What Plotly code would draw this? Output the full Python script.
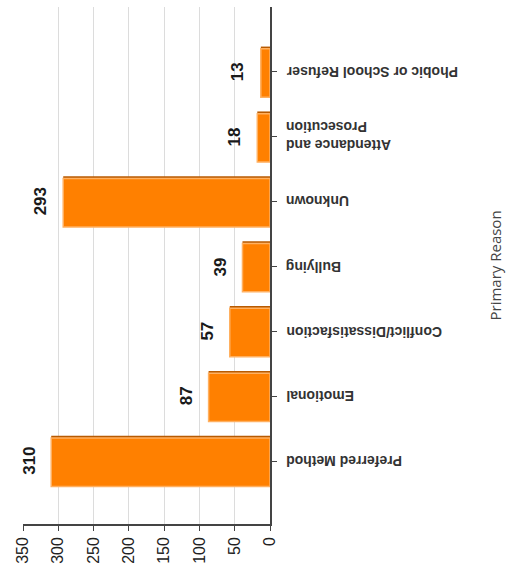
import plotly.graph_objects as go

categories = ["Preferred Method", "Emotional", "Conflict/Dissatisfaction", "Bullying",
              "Unknown", "Attendance and<br>Prosecution", "Phobic or School Refuser"]
values = [310, 87, 57, 39, 293, 18, 13]
x_ticks = [0, 50, 100, 150, 200, 250, 300, 350]
axis_title = "Primary Reason"

fig = go.Figure()
# darker base (3D shade on top edge)
fig.add_trace(go.Bar(
    y=categories, x=values, orientation="h",
    width=0.78, offset=-0.39,
    marker=dict(color="#b85a00", line=dict(width=0)),
    hoverinfo="skip", showlegend=False,
))
# main bar
fig.add_trace(go.Bar(
    y=categories, x=values, orientation="h",
    width=0.745, offset=-0.39,
    marker=dict(color="#ff8000", line=dict(color="#ffb060", width=1.5)),
    showlegend=False,
))

# value labels
for c, v in zip(categories, values):
    fig.add_annotation(
        xref="x", yref="y", x=v, y=c, text=str(v), textangle=-90,
        xanchor="right", yanchor="middle", xshift=-11, showarrow=False,
        font=dict(family="Liberation Sans, Arial", size=17, color="#1a1a1a", weight="bold"),
    )

# upside-down category labels
for c in categories:
    fig.add_annotation(
        xref="paper", yref="y", x=1, y=c, text=c, textangle=180,
        xanchor="left", yanchor="middle", xshift=14, showarrow=False,
        align="right",
        font=dict(family="Liberation Sans, Arial", size=14, color="#333", weight="bold"),
    )

fig.add_annotation(
    xref="paper", yref="paper", x=1, y=0.5, text=axis_title, textangle=-90,
    xanchor="center", yanchor="middle", xshift=224, showarrow=False,
    font=dict(family="Open Sans", size=15, color="#444"),
)

fig.update_layout(
    width=506, height=571,
    margin=dict(l=23, r=236, t=7, b=47),
    paper_bgcolor="white", plot_bgcolor="white",
    barmode="overlay",
    xaxis=dict(
        range=[350, 0], tickvals=x_ticks, ticktext=[str(t) for t in x_ticks],
        tickangle=-90, showgrid=True, gridcolor="#dcdcdc", gridwidth=1,
        showline=True, linecolor="#444", linewidth=1.5,
        ticks="outside", ticklen=5, tickcolor="#444",
        tickfont=dict(family="Liberation Sans, Arial", size=16, color="#222"),
        zeroline=False, automargin=False,
    ),
    yaxis=dict(
        side="right", type="category", range=[-0.97, 7.0],
        showticklabels=False, showline=True, linecolor="#444", linewidth=1.5,
        ticks="outside", ticklen=5, tickcolor="#444",
        showgrid=False, zeroline=False, automargin=False,
    ),
)

fig.write_html("out.html", config={"displayModeBar": False},
               post_script="document.body.style.margin='0';")
